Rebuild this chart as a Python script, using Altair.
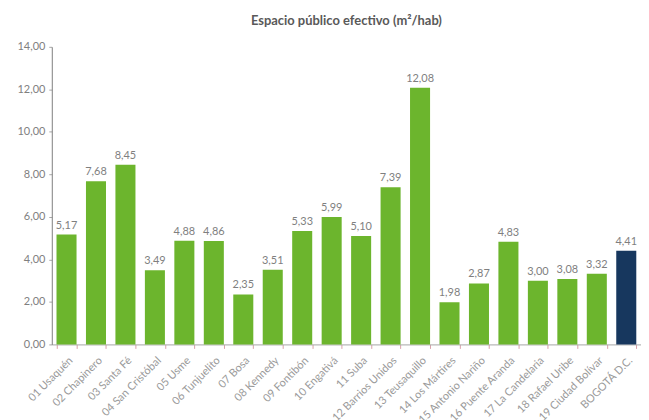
import altair as alt
import pandas as pd

localidades = [
    "01 Usaquén", "02 Chapinero", "03 Santa Fé", "04 San Cristóbal", "05 Usme",
    "06 Tunjuelito", "07 Bosa", "08 Kennedy", "09 Fontibón", "10 Engativá",
    "11 Suba", "12 Barrios Unidos", "13 Teusaquillo", "14 Los Mártires",
    "15 Antonio Nariño", "16 Puente Aranda", "17 La Candelaria", "18 Rafael Uribe",
    "19 Ciudad Bolívar", "BOGOTÁ D.C.",
]
valores = [5.17, 7.68, 8.45, 3.49, 4.88, 4.86, 2.35, 3.51, 5.33, 5.99,
           5.10, 7.39, 12.08, 1.98, 2.87, 4.83, 3.00, 3.08, 3.32, 4.41]
grupo = ["Localidad"] * 19 + ["Total"]

df = pd.DataFrame({"localidad": localidades, "valor": valores, "grupo": grupo})

FONT = "Lato"

base = alt.Chart(df).transform_calculate(
    etiqueta="replace(format(datum.valor, '.2f'), '.', ',')"
)

x = alt.X(
    "localidad:N",
    sort=localidades,
    title=None,
    scale=alt.Scale(paddingInner=0.32, paddingOuter=0.16),
    axis=alt.Axis(
        labelAngle=-45,
        labelAlign="right",
        labelBaseline="top",
        labelFontSize=11,
        labelColor="#9a9a9a",
        labelFont=FONT,
        tickBand="extent",
        tickSize=4,
        tickColor="#d9a0a8",
        domainColor="#a6a6a6",
        labelPadding=6,
    ),
)

bars = base.mark_bar().encode(
    x=x,
    y=alt.Y(
        "valor:Q",
        title=None,
        scale=alt.Scale(domain=[0, 14]),
        axis=alt.Axis(
            values=[0, 2, 4, 6, 8, 10, 12, 14],
            labelExpr="replace(format(datum.value, '.2f'), '.', ',')",
            grid=False,
            tickSize=3,
            tickColor="#a6a6a6",
            domainColor="#7f7f7f",
            labelFontSize=11,
            labelColor="#7f7f7f",
            labelFont=FONT,
            labelPadding=4,
        ),
    ),
    color=alt.Color(
        "grupo:N",
        scale=alt.Scale(domain=["Localidad", "Total"], range=["#6cb52d", "#17375e"]),
        legend=None,
    ),
)

text = base.mark_text(dy=-9, fontSize=11, color="#7f7f7f", font=FONT).encode(
    x=alt.X("localidad:N", sort=localidades),
    y="valor:Q",
    text="etiqueta:N",
)

chart = (
    alt.layer(bars, text)
    .properties(
        width=592,
        height=299,
        title=alt.TitleParams(
            "Espacio público efectivo (m²/hab)",
            font=FONT,
            fontSize=13,
            fontWeight="bold",
            color="#595959",
            offset=13,
        ),
        padding={"left": 8, "top": 6, "right": 0, "bottom": 5},
    )
    .configure_view(stroke=None)
)

chart.save("out.html", embed_options={"renderer": "svg", "actions": False})
